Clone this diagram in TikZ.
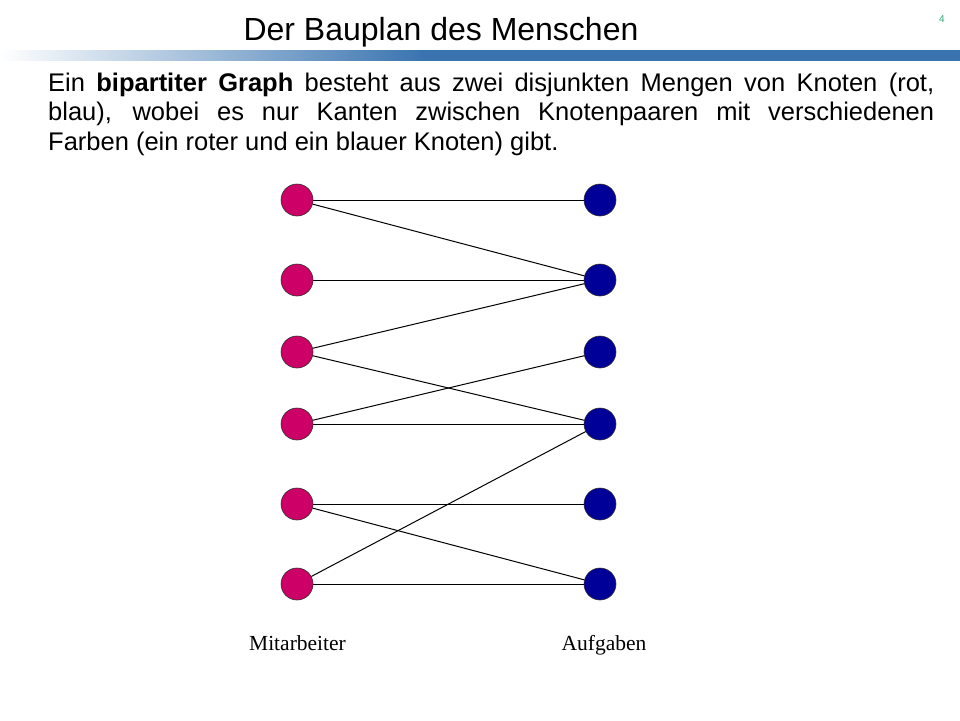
\documentclass[tikz,border=0pt]{standalone}
\usepackage{fontspec}
\setmainfont{Liberation Sans}
\newfontfamily\serifft{Liberation Serif}
\definecolor{barblue}{HTML}{3A74B0}
\definecolor{redn}{HTML}{CC0066}
\definecolor{bluen}{HTML}{000099}
\definecolor{pgreen}{HTML}{33AA77}
\pgfdeclarehorizontalshading{barshade}{100bp}{color(0bp)=(white); color(25bp)=(white); color(47bp)=(barblue); color(100bp)=(barblue)}
\tikzset{
  rnode/.style={circle,minimum size=32pt,inner sep=0pt,fill=redn,draw=black!80,line width=0.6pt},
  bnode/.style={circle,minimum size=32pt,inner sep=0pt,fill=bluen,draw=black!80,line width=0.6pt},
  edge/.style={draw=black,line width=1pt},
  lbl/.style={font=\serifft\fontsize{21.5}{24}\selectfont,anchor=base}
}
\begin{document}
\begin{tikzpicture}[x=1pt,y=-1pt]
\useasboundingbox (0,0) rectangle (960,720);
% header
\node[anchor=base,font=\fontsize{32}{36}\selectfont] (title) at (441,40) {Der Bauplan des Menschen};
\node[anchor=base,text=pgreen,font=\fontsize{10}{12}\selectfont] (pnum) at (942,22) {4};
\shade[shading=barshade] (0,50.5) rectangle (960,60);
% paragraph
\node[anchor=north west,inner sep=0pt,text width=886pt,align=justify,font=\fontsize{25.5}{29.5}\selectfont] (para) at (48,72.5)
{Ein \textbf{bipartiter Graph} besteht aus zwei disjunkten Mengen von Knoten (rot,\linebreak blau), wobei es nur Kanten zwischen Knotenpaaren mit verschiedenen\linebreak Farben (ein roter und ein blauer Knoten) gibt.};
% nodes
\node[rnode] (r1) at (297,200) {};
\node[rnode] (r2) at (297,280) {};
\node[rnode] (r3) at (297,352) {};
\node[rnode] (r4) at (297,424) {};
\node[rnode] (r5) at (297,504) {};
\node[rnode] (r6) at (297,584) {};
\node[bnode] (b1) at (600,200) {};
\node[bnode] (b2) at (600,280) {};
\node[bnode] (b3) at (600,352) {};
\node[bnode] (b4) at (600,424) {};
\node[bnode] (b5) at (600,504) {};
\node[bnode] (b6) at (600,584) {};
% edges
\draw[edge] (r1) -- (b1);
\draw[edge] (r1) -- (b2);
\draw[edge] (r2) -- (b2);
\draw[edge] (r3) -- (b2);
\draw[edge] (r3) -- (b4);
\draw[edge] (r4) -- (b3);
\draw[edge] (r4) -- (b4);
\draw[edge] (r5) -- (b5);
\draw[edge] (r5) -- (b6);
\draw[edge] (r6) -- (b6);
\draw[edge] (r6) -- (b4);
% labels
\node[lbl] (lm) at (297.5,650) {Mitarbeiter};
\node[lbl] (la) at (604,650) {Aufgaben};
\end{tikzpicture}
\end{document}
